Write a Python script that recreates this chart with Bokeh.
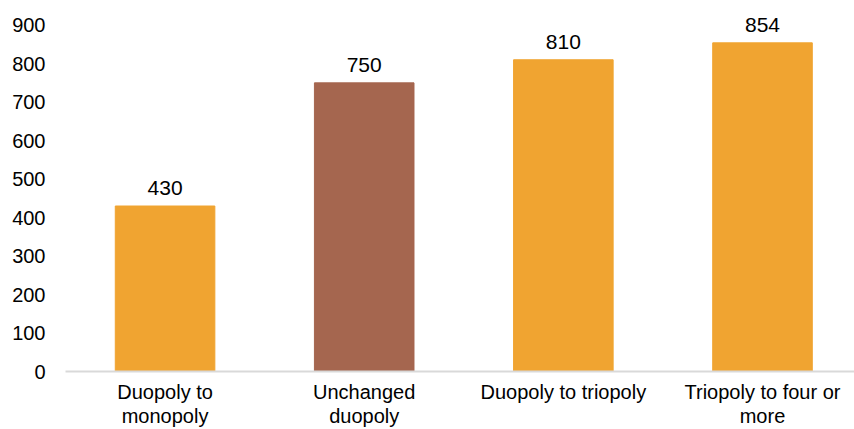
from bokeh.plotting import figure
from bokeh.models import ColumnDataSource, Range1d, FixedTicker
from bokeh.core.properties import value
from bokeh.embed import file_html
from bokeh.resources import INLINE

categories = ["Duopoly to\nmonopoly", "Unchanged\nduopoly",
              "Duopoly to triopoly", "Triopoly to four or\nmore"]
values = [430, 750, 810, 854]
colors = ["#F0A431", "#A5664F", "#F0A431", "#F0A431"]
y_ticks = [0, 100, 200, 300, 400, 500, 600, 700, 800, 900]

FONT = "Liberation Sans"

xs = list(range(len(categories)))
src = ColumnDataSource(dict(x=xs, top=values, color=colors,
                            label=[str(v) for v in values]))

p = figure(width=854, height=429, output_backend="svg", toolbar_location=None,
           x_range=Range1d(-0.5, 3.462), y_range=Range1d(0, 964),
           min_border_left=65, min_border_right=0, min_border_top=0,
           min_border_bottom=52)

p.vbar(x="x", top="top", width=0.5, color="color", source=src)
p.text(x="x", y="top", text="label", source=src, text_align="center",
       text_baseline="bottom", y_offset=-11, text_font_size="21px",
       text_font=value(FONT), text_color="#000000")

p.xaxis.ticker = FixedTicker(ticks=xs)
p.xaxis.major_label_overrides = {i: c for i, c in zip(xs, categories)}
p.xaxis.major_label_text_font = FONT
p.xaxis.major_label_text_font_size = "20px"
p.xaxis.major_label_text_line_height = 1.1
p.xaxis.major_label_text_color = "#000000"
p.xaxis.major_label_standoff = 3
p.xaxis.axis_line_color = "#D9D9D9"
p.xaxis.axis_line_width = 2
p.xaxis.major_tick_line_color = None
p.xaxis.minor_tick_line_color = None

p.yaxis.ticker = FixedTicker(ticks=y_ticks)
p.yaxis.major_label_text_font = FONT
p.yaxis.major_label_text_font_size = "20px"
p.yaxis.major_label_text_color = "#000000"
p.yaxis.major_label_standoff = 14
p.yaxis.axis_line_color = None
p.yaxis.major_tick_line_color = None
p.yaxis.minor_tick_line_color = None

p.xgrid.grid_line_color = None
p.ygrid.grid_line_color = None
p.outline_line_color = None
p.background_fill_color = "white"
p.border_fill_color = "white"

open("out.html", "w").write(file_html(p, INLINE))
